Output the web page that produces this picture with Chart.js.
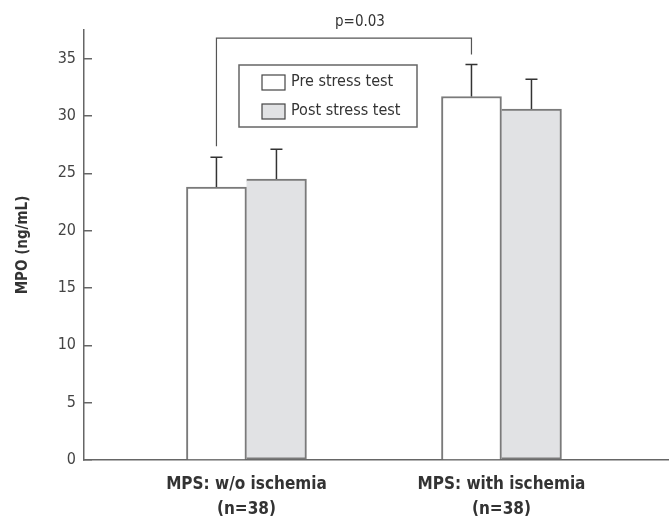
<!DOCTYPE html>
<html lang="en">
<head>
    <meta charset="UTF-8">
    <title>MPO pre and post stress test</title>
    <style>
        * { margin: 0; padding: 0; box-sizing: border-box; }
        body { background: #fff; width: 670px; height: 518px; overflow: hidden; }
        canvas { display: block; }
    </style>
    <script src="https://cdn.jsdelivr.net/npm/chart.js"></script>
</head>
<body>
    <canvas id="mpo-chart" width="670" height="518"></canvas>

    <script>
        // values
        const categories = [['MPS: w/o ischemia', '(n=38)'], ['MPS: with ischemia', '(n=38)']];
        const groupPositions = [1, 2];
        const seriesNames = ['Pre stress test', 'Post stress test'];
        const preValues = [23.8, 31.7];
        const postValues = [24.5, 30.6];
        const preErrors = [2.6, 2.8];
        const postErrors = [2.6, 2.6];
        const yTicks = [0, 5, 10, 15, 20, 25, 30, 35];
        const pText = 'p=0.03';
        const pLevel = 36.8;

        const FONT = "'Liberation Sans Narrow', 'DejaVu Sans Condensed', 'Liberation Sans', sans-serif";
        const errorSets = [preErrors, postErrors];

        // error bars, significance bracket and the boxed legend
        const extras = {
            id: 'extras',
            afterDatasetsDraw(chart) {
                const ctx = chart.ctx;
                const y = chart.scales.y;
                ctx.save();

                // error bars
                ctx.strokeStyle = '#333';
                ctx.lineWidth = 1.5;
                chart.data.datasets.forEach((ds, di) => {
                    chart.getDatasetMeta(di).data.forEach((bar, i) => {
                        const top = y.getPixelForValue(ds.data[i].y + errorSets[di][i]);
                        ctx.beginPath();
                        ctx.moveTo(bar.x, bar.y);
                        ctx.lineTo(bar.x, top);
                        ctx.moveTo(bar.x - 6, top);
                        ctx.lineTo(bar.x + 6, top);
                        ctx.stroke();
                    });
                });

                // bracket between the two "pre" bars
                const pre = chart.getDatasetMeta(0).data;
                const lvl = y.getPixelForValue(pLevel);
                const leftEnd = y.getPixelForValue(preValues[0] + preErrors[0]) - 11;
                const rightEnd = y.getPixelForValue(preValues[1] + preErrors[1]) - 10;
                ctx.strokeStyle = '#555';
                ctx.lineWidth = 1.2;
                ctx.beginPath();
                ctx.moveTo(pre[0].x, leftEnd);
                ctx.lineTo(pre[0].x, lvl);
                ctx.lineTo(pre[1].x, lvl);
                ctx.lineTo(pre[1].x, rightEnd);
                ctx.stroke();
                ctx.fillStyle = '#333';
                ctx.font = '15px ' + FONT;
                ctx.textAlign = 'center';
                ctx.textBaseline = 'alphabetic';
                ctx.fillText(pText, (pre[0].x + pre[1].x) / 2 + 16, lvl - 12);

                // legend box
                ctx.strokeStyle = '#666';
                ctx.lineWidth = 1.5;
                ctx.strokeRect(239, 65, 178, 62);
                chart.data.datasets.forEach((ds, di) => {
                    const ty = 75 + di * 29;
                    ctx.fillStyle = ds.backgroundColor;
                    ctx.fillRect(262, ty, 23, 15);
                    ctx.strokeStyle = '#444';
                    ctx.lineWidth = 1.2;
                    ctx.strokeRect(262, ty, 23, 15);
                    ctx.fillStyle = '#333';
                    ctx.textAlign = 'left';
                    ctx.textBaseline = 'middle';
                    ctx.font = '16px ' + FONT;
                    ctx.fillText(ds.label, 291, ty + 7);
                });
                ctx.restore();
            }
        };

        const ctx = document.getElementById('mpo-chart').getContext('2d');
        new Chart(ctx, {
            type: 'bar',
            data: {
                datasets: [
                    { label: seriesNames[0], data: preValues.map((v, i) => ({ x: groupPositions[i], y: v })),
                      backgroundColor: '#ffffff', borderColor: '#7a7a7a', borderWidth: 2 },
                    { label: seriesNames[1], data: postValues.map((v, i) => ({ x: groupPositions[i], y: v })),
                      backgroundColor: '#e1e2e4', borderColor: '#7a7a7a', borderWidth: 2, borderSkipped: 'left' }
                ]
            },
            options: {
                responsive: false,
                animation: false,
                barThickness: 60,
                layout: { padding: { left: 0, top: 30, right: 2, bottom: 0 } },
                plugins: { legend: { display: false }, tooltip: { enabled: false } },
                scales: {
                    x: {
                        type: 'linear',
                        min: 0.363,
                        max: 2.653,
                        offset: false,
                        afterBuildTicks: s => { s.ticks = groupPositions.map(v => ({ value: v })); },
                        afterFit: s => { s.height = 58; },
                        grid: { display: false },
                        border: { color: '#666', width: 1.5 },
                        ticks: {
                            padding: 4,
                            color: '#333',
                            autoSkip: false,
                            maxRotation: 0,
                            font: { family: FONT, size: 17, weight: 'bold', lineHeight: 1.47 },
                            callback: v => categories[groupPositions.indexOf(v)]
                        }
                    },
                    y: {
                        min: 0,
                        max: 37.5,
                        afterBuildTicks: s => { s.ticks = yTicks.map(v => ({ value: v })); },
                        afterFit: s => { s.width = 84; },
                        grid: { drawOnChartArea: false, tickLength: -8, color: '#666', lineWidth: 1.5 },
                        border: { color: '#666', width: 1.5 },
                        ticks: { padding: 16, color: '#444', font: { family: FONT, size: 16 } },
                        title: {
                            display: true,
                            text: 'MPO (ng/mL)',
                            color: '#333',
                            padding: { top: 14, bottom: 0 },
                            font: { family: FONT, size: 15, weight: 'bold' }
                        }
                    }
                }
            },
            plugins: [extras]
        });
    </script>
</body>
</html>
